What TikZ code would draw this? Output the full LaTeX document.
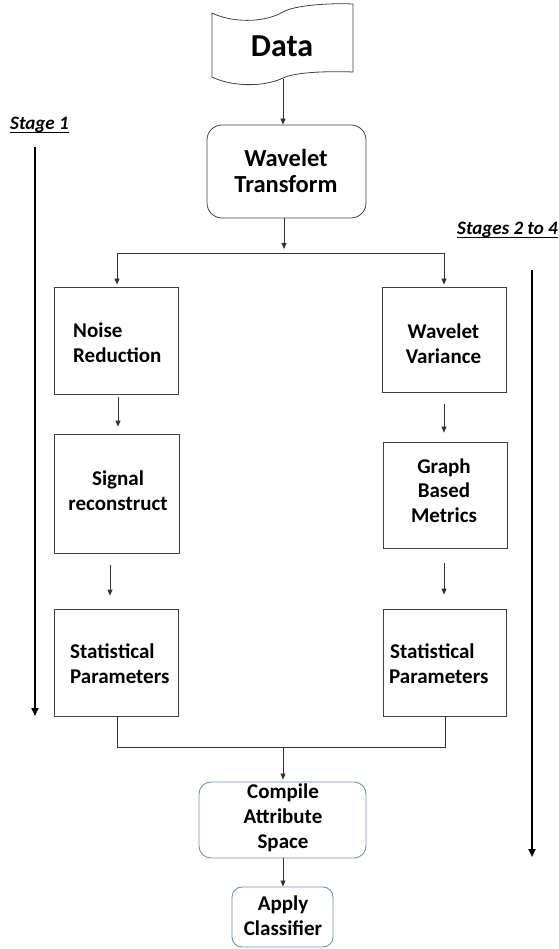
\documentclass[tikz,border=0pt]{standalone}
\usepackage{fontspec}
\setmainfont{Carlito}
\usetikzlibrary{arrows.meta,calc}
\definecolor{edgeblue}{RGB}{112,142,192}
% keep "t" and "i" apart (no ti ligature)
\newcommand{\Statword}{Statis\kern0pt ti\kern0pt cal}
\begin{document}
\begin{tikzpicture}[x=1pt,y=-1pt,
  box/.style={draw=black!75, line width=0.8pt, inner sep=0pt},
  roundbox/.style={box, rounded corners=#1},
  bluebox/.style={draw=edgeblue, line width=0.9pt, inner sep=0pt, rounded corners=#1},
  lbl/.style={font=\fontsize{21}{25}\selectfont\bfseries, anchor=base, inner sep=0pt},
  lblw/.style={lbl, anchor=base west},
  wtlbl/.style={lbl, font=\fontsize{24.5}{28}\selectfont\bfseries},
  conn/.style={draw=black!80, line width=0.8pt},
  arr/.style={conn, -{Triangle[length=6pt,width=5pt]}},
  stagearr/.style={line width=2pt, -{Triangle[length=8pt,width=7pt]}},
  stagelbl/.style={font=\fontsize{19}{22}\selectfont\bfseries\itshape, anchor=base west, inner sep=0pt},
  tape/.style={draw=black!75, line width=0.8pt}]

\useasboundingbox (0,0) rectangle (558,949);

% punched tape holding the input data
\draw[tape] (212,13) .. controls (230,22) and (262,24) .. (283,12)
  .. controls (295,5) and (330,3) .. (353,4) -- (353,72)
  .. controls (330,71) and (295,72) .. (283,78)
  .. controls (262,88) and (230,86) .. (212,77) -- cycle;
\node[font=\fontsize{32}{37}\selectfont\bfseries, anchor=base, inner sep=0pt] (data) at (282,57) {Data};
\coordinate (dbot) at (283,79);

% process boxes
\node[roundbox=15pt, minimum width=159pt, minimum height=93pt] (wt) at (286.5,171.5) {};
\node[box, minimum width=124pt, minimum height=107pt] (nr)  at (116,340.5) {};
\node[box, minimum width=125pt, minimum height=119pt] (sr)  at (116.5,493.5) {};
\node[box, minimum width=124pt, minimum height=107pt] (spl) at (116,662.5) {};
\node[box, minimum width=124pt, minimum height=105pt] (wv)  at (444,339.5) {};
\node[box, minimum width=124pt, minimum height=106pt] (gbm) at (445,495) {};
\node[box, minimum width=123pt, minimum height=107pt] (spr) at (444.5,662.5) {};
\node[bluebox=12pt, minimum width=167pt, minimum height=76pt] (cas) at (282.5,820) {};
\node[bluebox=10pt, minimum width=101pt, minimum height=60pt] (ac)  at (282.5,917) {};

% box texts
\node[wtlbl] at (286,167) {Wavelet};
\node[wtlbl] at (286,193) {Transform};
\node[lblw] at (73,337) {Noise};
\node[lblw] at (73,362) {Reduction};
\node[lbl] at (118,485) {Signal};
\node[lbl] at (118,510) {reconstruct};
\node[lblw] at (70,658) {\Statword};
\node[lblw] at (70,683) {Parameters};
\node[lbl] at (443.5,338) {Wavelet};
\node[lbl] at (443.5,363) {Variance};
\node[lbl] at (444,473) {Graph};
\node[lbl] at (444,497) {Based};
\node[lbl] at (444,522) {Metrics};
\node[lblw] at (390,658) {\Statword};
\node[lblw] at (389,683) {Parameters};
\node[lbl] at (283,798) {Compile};
\node[lbl] at (283,823) {Attribute};
\node[lbl] at (283,848) {Space};
\node[lbl] at (283,910) {Apply};
\node[lbl] at (283,935) {Classifier};

% connectors
\coordinate (split) at (284,253);
\coordinate (splitl) at (117,253);
\coordinate (splitr) at (444,253);
\coordinate (merge) at (283,747);
\coordinate (mergel) at (117,747);
\coordinate (merger) at (445,747);

\draw[arr] (dbot) -- (dbot |- wt.north);
\draw[arr, shorten >=4pt] (split |- wt.south) -- (split);
\draw[conn] (splitl) -- (splitr);
\draw[arr, shorten >=2pt] (splitl) -- (splitl |- nr.north);
\draw[arr, shorten >=2pt] (splitr) -- (splitr |- wv.north);

\draw[arr, shorten <=3pt, shorten >=7pt] (118,0 |- nr.south) -- (118,0 |- sr.north);
\draw[arr, shorten <=12pt, shorten >=13pt] (110,0 |- sr.south) -- (110,0 |- spl.north);
\draw[arr, shorten <=12pt, shorten >=9pt] (444,0 |- wv.south) -- (444,0 |- gbm.north);
\draw[arr, shorten <=15pt, shorten >=14pt] (444,0 |- gbm.south) -- (444,0 |- spr.north);

\draw[conn] (mergel |- spl.south) -- (mergel) -- (merger) -- (merger |- spr.south);
\draw[arr, shorten >=2pt] (merge) -- (merge |- cas.north);
\draw[arr] (merge |- cas.south) -- (merge |- ac.north);

% stage markers
\node[stagelbl] (s1) at (10,130) {Stage 1};
\draw[line width=1pt] ($(s1.base west)+(0,2.5)$) -- ($(s1.base east)+(0,2.5)$);
\coordinate (s1top) at (35,147);
\coordinate (s1bot) at (35,716);
\draw[stagearr] (s1top) -- (s1bot);

\node[stagelbl] (s2) at (457,235) {Stages 2 to 4};
\draw[line width=1pt] ($(s2.base west)+(0,2.5)$) -- ($(s2.base east)+(0,2.5)$);
\coordinate (s2top) at (532,270);
\coordinate (s2bot) at (532,857);
\draw[stagearr] (s2top) -- (s2bot);
\end{tikzpicture}
\end{document}
